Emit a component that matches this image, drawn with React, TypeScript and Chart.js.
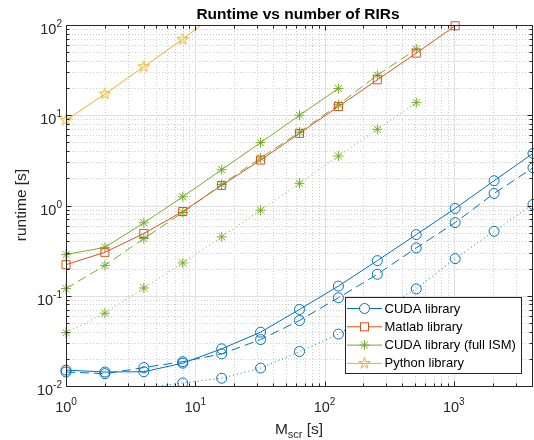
import React, { useEffect, useRef } from "react";
import { Chart, registerables } from "chart.js";

Chart.register(...registerables);

// ---------- data ----------
const xValues = [1, 2, 4, 8, 16, 32, 64, 128, 256, 512, 1024, 2048, 4096];

const cudaSolid = [0.015, 0.0143, 0.0144, 0.0179, 0.0258, 0.0395, 0.0705, 0.128, 0.245, 0.476, 0.927, 1.88, 3.78];
const cudaDashed = [0.0143, 0.0137, 0.016, 0.0186, 0.0227, 0.0327, 0.0532, 0.095, 0.173, 0.339, 0.647, 1.36, 2.62];
const cudaDotted = [0.0088, 0.009, 0.0095, 0.0108, 0.0122, 0.0158, 0.0241, 0.0376, 0.067, 0.119, 0.258, 0.518, 1.03];

const matlabValues = [0.221, 0.303, 0.49, 0.857, 1.67, 3.19, 6.3, 12.5, 24.7, 48.8, 98];

const ismSolid = [0.286, 0.344, 0.642, 1.25, 2.49, 4.97, 10.0, 19.8];
const ismDashed = [0.12, 0.217, 0.43, 0.836, 1.71, 3.36, 6.5, 13.1, 27.8, 54];
const ismDotted = [0.039, 0.064, 0.122, 0.231, 0.449, 0.887, 1.76, 3.53, 6.99, 13.8];

const pythonValues = [8.8, 17.2, 34.5, 69.5, 150];

const xTickValues = [1, 10, 100, 1000];
const yTickValues = [0.01, 0.1, 1, 10, 100];
const xMin = 1;
const xMax = 4096;
const yMin = 0.01;
const yMax = 100;

const legendLabels = ["CUDA library", "Matlab library", "CUDA library (full ISM)", "Python library"];
const titleText = "Runtime vs number of RIRs";
const yLabelText = "runtime [s]";
const xLabelMain = "M";
const xLabelSub = "scr";
const xLabelUnit = " [s]";

// ---------- styles ----------
const BLUE = "#0072BD";
const ORANGE = "#D95319";
const YELLOW = "#EDB120";
const GREEN = "#77AC30";
const AXIS = "#262626";
const FONT = '"Liberation Sans", Arial, Helvetica, sans-serif';
const DASH = [9, 5];
const DOT = [1, 3];

function drawPentagram(ctx: CanvasRenderingContext2D, cx: number, cy: number, R: number, color: string) {
  const r = R * 0.382;
  ctx.beginPath();
  for (let i = 0; i < 10; i++) {
    const rad = i % 2 === 0 ? R : r;
    const a = -Math.PI / 2 + (i * Math.PI) / 5;
    const px = cx + rad * Math.cos(a);
    const py = cy + rad * Math.sin(a);
    if (i === 0) ctx.moveTo(px, py);
    else ctx.lineTo(px, py);
  }
  ctx.closePath();
  ctx.strokeStyle = color;
  ctx.lineWidth = 1;
  ctx.setLineDash([]);
  ctx.stroke();
}

function makeStarCanvas(color: string, R: number) {
  const size = Math.ceil(R * 2 + 3);
  const c = document.createElement("canvas");
  c.width = size;
  c.height = size;
  const ctx = c.getContext("2d")!;
  drawPentagram(ctx, size / 2, size / 2, R, color);
  return c;
}

function minorValues(decades: number[], max: number) {
  const out: number[] = [];
  decades.forEach((d) => {
    for (let k = 2; k <= 9; k++) {
      const v = d * k;
      if (v < max) out.push(v);
    }
  });
  return out;
}

function drawPow(ctx: CanvasRenderingContext2D, exp: number, x: number, yBase: number, align: "center" | "right") {
  const base = "10";
  const e = String(exp);
  const baseFont = `14.5px ${FONT}`;
  const expFont = `10px ${FONT}`;
  ctx.font = baseFont;
  const wb = ctx.measureText(base).width;
  ctx.font = expFont;
  const we = ctx.measureText(e).width;
  const total = wb + we;
  const left = align === "center" ? x - total / 2 : x - total;
  ctx.textAlign = "left";
  ctx.textBaseline = "alphabetic";
  ctx.fillStyle = AXIS;
  ctx.font = baseFont;
  ctx.fillText(base, left, yBase);
  ctx.font = expFont;
  ctx.fillText(e, left + wb, yBase - 7);
}

const matlabPlugin = {
  id: "matlabAxes",
  beforeDatasetsDraw(chart: any) {
    const { ctx, chartArea: a, scales } = chart;
    const xs = scales.x;
    const ys = scales.y;
    ctx.save();
    ctx.lineWidth = 1;
    ctx.strokeStyle = "#cfcfcf";
    ctx.setLineDash([1, 2]);
    minorValues([1, 10, 100, 1000], xMax).forEach((v) => {
      const px = Math.round(xs.getPixelForValue(v)) + 0.5;
      ctx.beginPath();
      ctx.moveTo(px, a.top);
      ctx.lineTo(px, a.bottom);
      ctx.stroke();
    });
    minorValues([0.01, 0.1, 1, 10], yMax).forEach((v) => {
      const py = Math.round(ys.getPixelForValue(v)) + 0.5;
      ctx.beginPath();
      ctx.moveTo(a.left, py);
      ctx.lineTo(a.right, py);
      ctx.stroke();
    });
    ctx.setLineDash([]);
    ctx.strokeStyle = "#e0e0e0";
    xTickValues.forEach((v) => {
      const px = Math.round(xs.getPixelForValue(v)) + 0.5;
      ctx.beginPath();
      ctx.moveTo(px, a.top);
      ctx.lineTo(px, a.bottom);
      ctx.stroke();
    });
    yTickValues.forEach((v) => {
      const py = Math.round(ys.getPixelForValue(v)) + 0.5;
      ctx.beginPath();
      ctx.moveTo(a.left, py);
      ctx.lineTo(a.right, py);
      ctx.stroke();
    });
    ctx.restore();
  },
  afterDatasetsDraw(chart: any) {
    const { ctx, chartArea: a, scales } = chart;
    const xs = scales.x;
    const ys = scales.y;
    ctx.save();
    ctx.setLineDash([]);
    ctx.lineWidth = 1;
    ctx.strokeStyle = AXIS;
    const L = a.left + 0.5;
    const R = a.right - 0.5;
    const T = a.top + 0.5;
    const B = a.bottom + 0.5;
    ctx.beginPath();
    ctx.rect(L, T, R - L, B - T);
    ctx.stroke();
    const xMinor = minorValues([1, 10, 100, 1000], xMax);
    const yMinor = minorValues([0.01, 0.1, 1, 10], yMax);
    const tick = (x1: number, y1: number, x2: number, y2: number) => {
      ctx.beginPath();
      ctx.moveTo(x1, y1);
      ctx.lineTo(x2, y2);
      ctx.stroke();
    };
    xTickValues.forEach((v) => {
      const px = Math.round(xs.getPixelForValue(v)) + 0.5;
      tick(px, B, px, B - 5);
      tick(px, T, px, T + 5);
    });
    xMinor.forEach((v) => {
      const px = Math.round(xs.getPixelForValue(v)) + 0.5;
      tick(px, B, px, B - 3);
      tick(px, T, px, T + 3);
    });
    yTickValues.forEach((v) => {
      const py = Math.round(ys.getPixelForValue(v)) + 0.5;
      tick(L, py, L + 5, py);
      tick(R, py, R - 5, py);
    });
    yMinor.forEach((v) => {
      const py = Math.round(ys.getPixelForValue(v)) + 0.5;
      tick(L, py, L + 3, py);
      tick(R, py, R - 3, py);
    });
    xTickValues.forEach((v) => {
      const px = xs.getPixelForValue(v);
      drawPow(ctx, Math.round(Math.log10(v)), px, a.bottom + 26, "center");
    });
    yTickValues.forEach((v) => {
      const py = ys.getPixelForValue(v);
      drawPow(ctx, Math.round(Math.log10(v)), a.left - 4, py + 9, "right");
    });

    ctx.fillStyle = "#000";
    ctx.font = `bold 15.5px ${FONT}`;
    ctx.textAlign = "center";
    ctx.textBaseline = "alphabetic";
    ctx.fillText(titleText, 298, 18.5);

    ctx.save();
    ctx.translate(25.5, 205);
    ctx.rotate(-Math.PI / 2);
    ctx.font = `15.5px ${FONT}`;
    ctx.fillStyle = AXIS;
    ctx.textAlign = "center";
    ctx.fillText(yLabelText, 0, 0);
    ctx.restore();

    const mainFont = `15.5px ${FONT}`;
    const subFont = `11px ${FONT}`;
    ctx.font = mainFont;
    const wM = ctx.measureText(xLabelMain).width;
    const wU = ctx.measureText(xLabelUnit).width;
    ctx.font = subFont;
    const wS = ctx.measureText(xLabelSub).width;
    const total = wM + wS + wU;
    const lx0 = 299 - total / 2;
    ctx.textAlign = "left";
    ctx.fillStyle = AXIS;
    ctx.font = mainFont;
    ctx.fillText(xLabelMain, lx0, 434);
    ctx.font = subFont;
    ctx.fillText(xLabelSub, lx0 + wM, 438);
    ctx.font = mainFont;
    ctx.fillText(xLabelUnit, lx0 + wM + wS, 434);

    const bx = 345;
    const by = 297;
    const bw = 176;
    const bh = 76;
    ctx.fillStyle = "#fff";
    ctx.fillRect(bx, by, bw, bh);
    ctx.strokeStyle = AXIS;
    ctx.lineWidth = 1;
    ctx.strokeRect(bx + 0.5, by + 0.5, bw, bh);
    const colors = [BLUE, ORANGE, GREEN, YELLOW];
    legendLabels.forEach((label, i) => {
      const yy = 308.5 + i * 18.3;
      const c = colors[i];
      ctx.strokeStyle = c;
      ctx.lineWidth = 1;
      ctx.beginPath();
      ctx.moveTo(347, yy);
      ctx.lineTo(382, yy);
      ctx.stroke();
      const mx = 364.5;
      if (i === 0) {
        ctx.beginPath();
        ctx.fillStyle = "#fff";
        ctx.arc(mx, yy, 5, 0, Math.PI * 2);
        ctx.fill();
        ctx.stroke();
      } else if (i === 1) {
        ctx.fillStyle = "#fff";
        ctx.fillRect(mx - 4, yy - 4, 8, 8);
        ctx.strokeRect(mx - 4, yy - 4, 8, 8);
      } else if (i === 2) {
        const r = 5;
        ctx.beginPath();
        ctx.moveTo(mx - r, yy);
        ctx.lineTo(mx + r, yy);
        ctx.moveTo(mx, yy - r);
        ctx.lineTo(mx, yy + r);
        const d = r * Math.SQRT1_2;
        ctx.moveTo(mx - d, yy - d);
        ctx.lineTo(mx + d, yy + d);
        ctx.moveTo(mx - d, yy + d);
        ctx.lineTo(mx + d, yy - d);
        ctx.stroke();
      } else {
        drawPentagram(ctx, mx, yy, 6, c);
      }
      ctx.fillStyle = "#000";
      ctx.font = `13px ${FONT}`;
      ctx.textAlign = "left";
      ctx.textBaseline = "middle";
      ctx.fillText(label, 384.5, yy + 0.5);
    });
    ctx.restore();
  },
};

function pts(xs: number[], ys: number[]) {
  return ys.map((y, i) => ({ x: xs[i], y }));
}

function makeDataset(
  label: string,
  ys: number[],
  color: string,
  dash: number[],
  pointStyle: any,
  radius: number,
  clip: any
) {
  // markers whose centre lies outside the axis limits are not drawn (as in MATLAB)
  const r = (ctx: any) => {
    const raw = ctx.raw;
    if (!raw) return radius;
    return raw.y < yMin || raw.y > yMax ? 0 : radius;
  };
  return {
    label,
    data: pts(xValues, ys),
    borderColor: color,
    backgroundColor: "rgba(0,0,0,0)",
    borderWidth: 1,
    borderDash: dash,
    pointStyle,
    pointRadius: r,
    pointHoverRadius: r,
    pointBorderColor: color,
    pointBackgroundColor: "rgba(0,0,0,0)",
    pointBorderWidth: 1,
    tension: 0,
    fill: false,
    clip,
  };
}

export default function App() {
  const canvasRef = useRef<HTMLCanvasElement | null>(null);

  useEffect(() => {
    const canvas = canvasRef.current;
    if (!canvas) return;
    const starImg = makeStarCanvas(YELLOW, 6);
    const clipNormal = { left: 10, right: 10, top: 10, bottom: 10 };
    const clipNoBottom = { left: 10, right: 10, top: 10, bottom: 0 };
    const clipNoTop = { left: 10, right: 10, top: 0, bottom: 10 };

    const datasets = [
      makeDataset("Python library", pythonValues, YELLOW, [], starImg, 6, clipNoTop),
      makeDataset("CUDA library (full ISM) dotted", ismDotted, GREEN, DOT, "star", 5, clipNormal),
      makeDataset("CUDA library (full ISM) dashed", ismDashed, GREEN, DASH, "star", 5, clipNormal),
      makeDataset("CUDA library (full ISM)", ismSolid, GREEN, [], "star", 5, clipNormal),
      makeDataset("Matlab library", matlabValues, ORANGE, [], "rect", 5.7, clipNormal),
      makeDataset("CUDA library dotted", cudaDotted, BLUE, DOT, "circle", 5, clipNoBottom),
      makeDataset("CUDA library dashed", cudaDashed, BLUE, DASH, "circle", 5, clipNormal),
      makeDataset("CUDA library", cudaSolid, BLUE, [], "circle", 5, clipNormal),
    ].reverse();

    const chart = new Chart(canvas, {
      type: "line",
      data: { datasets } as any,
      options: {
        animation: false,
        responsive: false,
        devicePixelRatio: 1,
        events: [],
        layout: { padding: { left: 66, top: 25, right: 4, bottom: 54 } },
        scales: {
          x: { type: "logarithmic", min: xMin, max: xMax, display: false },
          y: { type: "logarithmic", min: yMin, max: yMax, display: false },
        },
        plugins: {
          legend: { display: false },
          title: { display: false },
          tooltip: { enabled: false },
        },
      } as any,
      plugins: [matlabPlugin],
    });
    return () => chart.destroy();
  }, []);

  return (
    <div
      style={{
        position: "fixed",
        left: 0,
        top: 0,
        width: 534,
        height: 440,
        overflow: "hidden",
        background: "#fff",
      }}
    >
      <canvas ref={canvasRef} width={540} height={440} style={{ display: "block" }} />
    </div>
  );
}
